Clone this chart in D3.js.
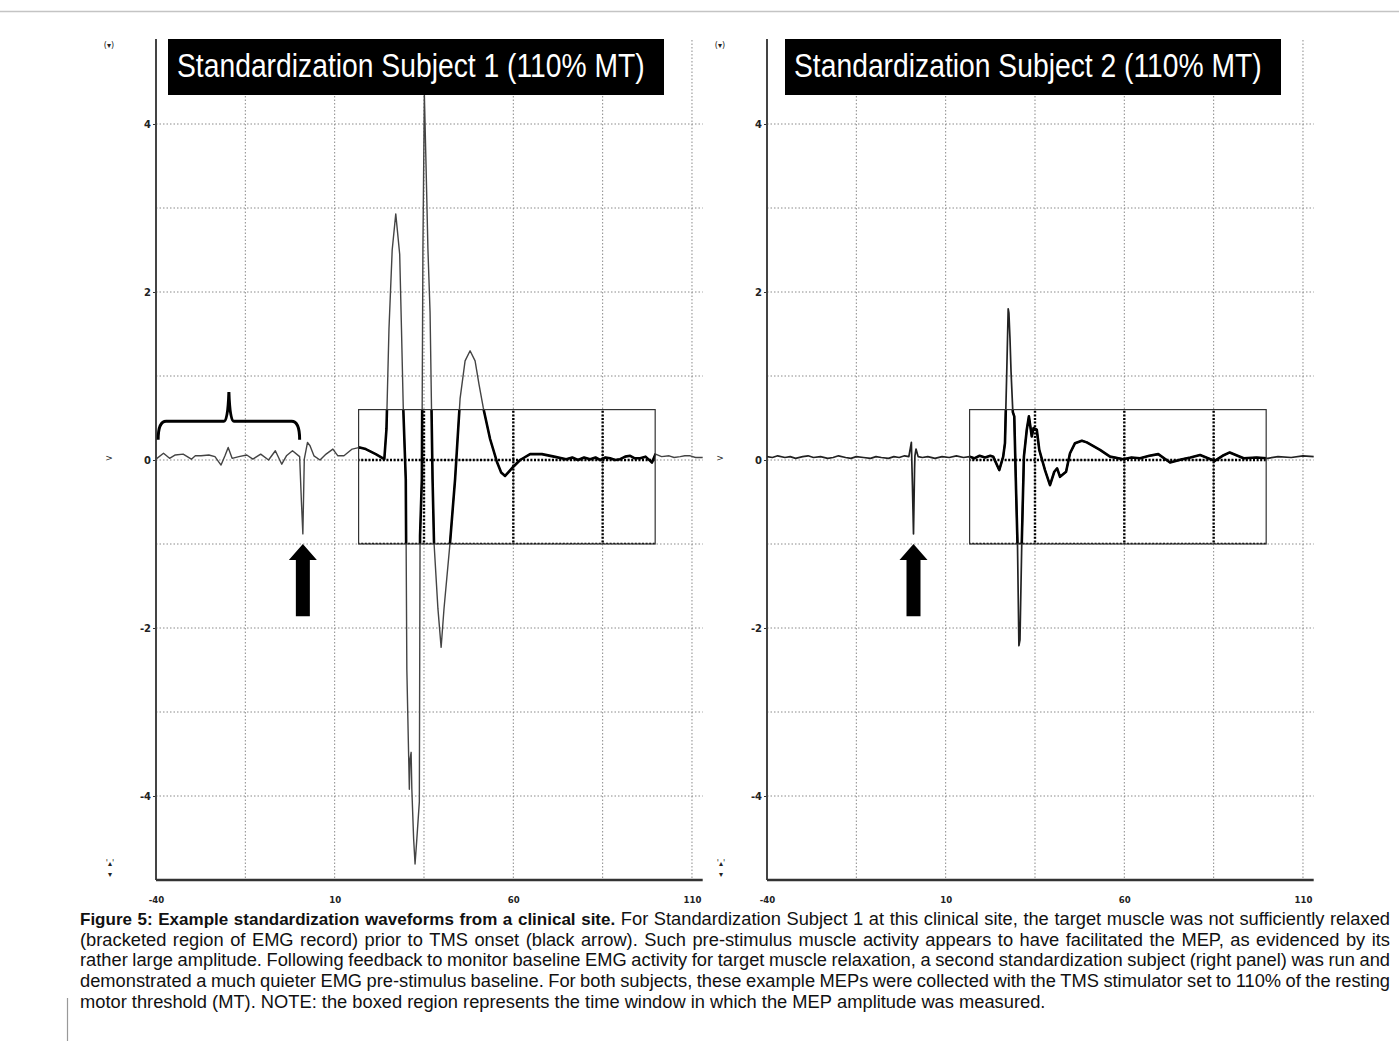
<!DOCTYPE html>
<html>
<head>
<meta charset="utf-8">
<script src="https://cdn.jsdelivr.net/npm/d3@7"></script>
<style>
  body { margin: 0; background: #fff; }
  svg { display: block; }
</style>
</head>
<body>
<div id="viz"></div>
<script>
'use strict';

const width = 1399;
const height = 1041;

// axis ticks (ms / mV)
const timeTicks = [-40, 10, 60, 110];
const timeGrid = [-15, 10, 35, 60, 85, 110];
const ampTicks = [4, 2, 0, -2, -4];
const ampGrid = [-4, -3, -2, -1, 0, 1, 2, 3, 4];

const panelTitles = [
    "Standardization Subject 1 (110% MT)",
    "Standardization Subject 2 (110% MT)"
];

// Subject 1 EMG trace
const s1Time = [-40, -37.9, -36.2, -34.6, -32.4, -30.1, -29, -27.4, -25.2, -23.5, -21.8, -20.7, -19.8, -18.7,
    -16.8, -14.6, -12.9, -10.7, -8.5, -6.6, -4.8, -3.5, -1.8, 0.2, 0.7, 1.1, 1.5, 2.4, 3.1, 4.2, 5.9, 7.6,
    9.5, 10.9, 12.6, 14.9, 17, 18.7, 21.5, 23.9, 24.5, 25.2, 26.1, 27.1, 28.2, 28.7, 29.2, 29.9, 30.2, 30.9,
    31.1, 31.4, 31.6, 32.1, 32.5, 33, 33.7, 33.9, 34.4, 34.7, 35.1, 35.6, 36.1, 36.7, 37.4, 37.8, 38.9, 39.8,
    40.6, 42.3, 43.7, 45.1, 46.5, 47.9, 49.3, 50.4, 51.6, 53.5, 55.4, 56.6, 57.7, 60, 61.9, 64.7, 68, 71.4,
    74.8, 76.5, 78.1, 79.8, 81.5, 83, 84.3, 85.8, 87.1, 88.5, 89.9, 91.3, 92.7, 94, 95.5, 97, 98.3, 98.8,
    99.8, 101.5, 103.6, 105, 106.7, 108, 109.5, 111, 113];
const s1Amp = [0.01, 0.08, 0.02, 0.06, 0.07, 0.01, 0.05, 0.05, 0.06, 0.04, -0.06, 0.05, 0.15, 0.02,
    0.04, 0.06, 0.01, 0.07, 0, 0.11, -0.05, 0.05, 0.11, 0.04, -0.5, -0.88, 0.01, 0.21, 0.17, 0.05, 0, 0.07,
    0.13, 0.05, 0.05, 0.13, 0.15, 0.13, 0.07, 0.01, 0.37, 1.56, 2.5, 2.93, 2.45, 1.56, 0.62, -0.23, -2.49, -3.92,
    -3.56, -3.48, -3.92, -4.51, -4.81, -4.51, -4.07, -0.9, -0.23, 2.51, 4.36, 3.46, 2.51, 1.76, -0.23, -0.98, -1.77, -2.23,
    -1.77, -0.98, -0.23, 0.73, 1.18, 1.3, 1.18, 0.9, 0.62, 0.25, -0.02, -0.15, -0.19, -0.08, 0, 0.07, 0.07, 0.04,
    0.01, 0.03, 0, 0.03, 0.01, 0.03, 0, 0.03, 0.02, 0, 0.01, 0.04, 0.05, 0.02, 0.02, 0.04, -0.01, -0.03,
    0.07, 0.04, 0.05, 0.03, 0.04, 0.05, 0.05, 0.03, 0.03];

// Subject 2 EMG trace
const s2Time = [-40, -38.5, -37, -35, -33.5, -32, -30, -28.5, -27, -25, -23, -21.5, -20, -18, -16.5, -15,
    -13, -11, -9.5, -8, -6, -4.5, -3, -1.5, -0.3, 0.4, 0.7, 1, 1.3, 1.4, 1.7, 2.3, 3.5, 5, 7, 9, 11, 13, 15,
    16.7, 18, 19.5, 21, 22.5, 23.3, 25, 26.1, 26.6, 27.1, 27.5, 27.7, 28, 28.3, 28.8, 29.2, 29.7, 30.1, 30.5,
    30.8, 31.3, 31.9, 32.7, 33.3, 34.1, 34.6, 35.5, 36.2, 37.8, 39.2, 40.4, 41.2, 42, 43.7, 44.8, 46.2, 48.1,
    49.5, 53.2, 56, 59.7, 62, 64.4, 67, 69.5, 72.8, 76.2, 78.5, 81.2, 85.3, 87.5, 89.5, 93.4, 97, 100.1, 103,
    106.7, 110, 113];
const s2Amp = [0.04, 0.03, 0.05, 0.03, 0.04, 0.02, 0.04, 0.05, 0.03, 0.04, 0.02, 0.03, 0.05, 0.03, 0.02, 0.04,
    0.03, 0.02, 0.04, 0.03, 0.02, 0.04, 0.03, 0.05, 0.04, 0.21, -0.3, -0.88, -0.1, 0.05, 0.13, 0.04, 0.03, 0.04, 0.02, 0.04, 0.03, 0.05, 0.03,
    0.04, 0.02, 0.05, 0.03, 0.05, 0.04, -0.12, 0.04, 0.2, 1.05, 1.8, 1.75, 1.45, 1.05, 0.57, 0.52, -0.35, -0.99, -2.21,
    -2.14, -0.99, 0.04, 0.36, 0.52, 0.28, 0.38, 0.36, 0.12, -0.12, -0.3, -0.14, -0.1, -0.2, -0.14, 0.08, 0.2, 0.23,
    0.21, 0.12, 0.04, 0.01, 0.03, 0.02, 0.05, 0.07, -0.03, 0.01, 0.03, 0.06, -0.01, 0.05, 0.09, 0.02, 0.03, 0.02, 0.04,
    0.03, 0.05, 0.04];

// measurement window (boxed region) and annotations, in data units
const windowTime = [16.7, 99.7];
const windowAmp = [-1, 0.6];
const stimTime = [1.1, 1.0];
const arrowAmp = [-1.0, -1.86];
const braceTime = [-39.4, -19.6, 0.2];
const braceAmp = [0.24, 0.46, 0.81];

const captionBold = "Figure 5: Example standardization waveforms from a clinical site.";
const captionLines = [
    "For Standardization Subject 1 at this clinical site, the target muscle was not sufficiently relaxed",
    "(bracketed region of EMG record) prior to TMS onset (black arrow). Such pre-stimulus muscle activity appears to have facilitated the MEP, as evidenced by its",
    "rather large amplitude. Following feedback to monitor baseline EMG activity for target muscle relaxation, a second standardization subject (right panel) was run and",
    "demonstrated a much quieter EMG pre-stimulus baseline. For both subjects, these example MEPs were collected with the TMS stimulator set to 110% of the resting",
    "motor threshold (MT). NOTE: the boxed region represents the time window in which the MEP amplitude was measured."
];

const panels = [
    { x0: 156, title: panelTitles[0], time: s1Time, amp: s1Amp, titleDx: 12, thin: "#444", stim: stimTime[0], brace: true },
    { x0: 767, title: panelTitles[1], time: s2Time, amp: s2Amp, titleDx: 18, thin: "#222", stim: stimTime[1], brace: false }
];
const plotW = 546.7;
const plotTop = 40;
const plotBottom = 880;

const svg = d3.select("#viz")
    .append("svg")
    .attr("width", width)
    .attr("height", height);

// page frame
svg.append("line").attr("x1", 0).attr("x2", width).attr("y1", 11.5).attr("y2", 11.5)
    .attr("stroke", "#c4c4c4").attr("stroke-width", 1.5);
svg.append("line").attr("x1", 67.5).attr("x2", 67.5).attr("y1", 998).attr("y2", height)
    .attr("stroke", "#999").attr("stroke-width", 1.2);

const defs = svg.append("defs");

panels.forEach((p, i) => {
    const x = d3.scaleLinear().domain([-40, 113]).range([p.x0, p.x0 + plotW]);
    const y = d3.scaleLinear().domain([-5, 5]).range([plotBottom, plotTop]);
    const g = svg.append("g");

    const clipId = "win" + i;
    defs.append("clipPath").attr("id", clipId)
        .append("rect")
        .attr("x", x(windowTime[0]))
        .attr("y", y(windowAmp[1]))
        .attr("width", x(windowTime[1]) - x(windowTime[0]))
        .attr("height", y(windowAmp[0]) - y(windowAmp[1]));

    // dotted grid
    const drawGrid = (sel, colour, w, dash) => {
        sel.selectAll(".vg").data(timeGrid).enter().append("line")
            .attr("x1", d => x(d)).attr("x2", d => x(d))
            .attr("y1", plotTop).attr("y2", plotBottom)
            .attr("stroke", colour).attr("stroke-width", w).attr("stroke-dasharray", dash);
        sel.selectAll(".hg").data(ampGrid).enter().append("line")
            .attr("x1", x(-40)).attr("x2", x(113))
            .attr("y1", d => y(d)).attr("y2", d => y(d))
            .attr("stroke", colour).attr("stroke-width", w).attr("stroke-dasharray", dash);
    };
    drawGrid(g.append("g"), "#8a8a8a", 1, "1.5,2");
    drawGrid(g.append("g").attr("clip-path", `url(#${clipId})`), "#000", 2.4, "2,1.6");

    // axes
    const yAxis = g.append("g")
        .attr("transform", `translate(${p.x0},0)`)
        .call(d3.axisLeft(y).tickValues(ampTicks).tickFormat(d => String(d)).tickSize(3).tickPadding(2));
    yAxis.select(".domain").remove();
    yAxis.selectAll("text").attr("font-family", "DejaVu Sans, sans-serif")
        .attr("font-size", 10).attr("font-weight", "bold").attr("fill", "#222");
    yAxis.selectAll("line").attr("stroke", "#333");

    const xAxis = g.append("g")
        .attr("transform", `translate(0,${plotBottom})`)
        .call(d3.axisBottom(x).tickValues(timeTicks).tickFormat(d => String(d)).tickSize(0).tickPadding(16));
    xAxis.select(".domain").remove();
    xAxis.selectAll("text").attr("font-family", "DejaVu Sans Condensed, DejaVu Sans, sans-serif")
        .attr("font-size", 9.5).attr("font-weight", "bold").attr("fill", "#222");

    g.append("line").attr("x1", p.x0).attr("x2", p.x0).attr("y1", plotTop - 1).attr("y2", plotBottom)
        .attr("stroke", "#444").attr("stroke-width", 2);
    g.append("line").attr("x1", p.x0).attr("x2", p.x0 + plotW).attr("y1", plotBottom).attr("y2", plotBottom)
        .attr("stroke", "#333").attr("stroke-width", 2.5);

    // software glyphs at the left margin
    const gx = p.x0 - 47;
    const glyph = g.append("g").attr("font-family", "DejaVu Sans, sans-serif").attr("fill", "#222")
        .attr("text-anchor", "middle");
    glyph.append("text").attr("x", gx).attr("y", 48).attr("font-size", 8).text("(\u25BE)");
    glyph.append("text").attr("x", gx).attr("y", y(0) + 1).attr("font-size", 9).text(">");
    glyph.append("text").attr("x", gx + 1).attr("y", 866).attr("font-size", 8).text("'\u25B4'");
    glyph.append("text").attr("x", gx + 1).attr("y", 877).attr("font-size", 8).text("\u25BE");

    // EMG trace
    const pts = p.time.map((t, k) => [t, p.amp[k]]);
    const line = d3.line().x(d => x(d[0])).y(d => y(d[1]));
    g.append("path").datum(pts)
        .attr("fill", "none").attr("stroke", p.thin).attr("stroke-width", i === 0 ? 1.4 : 1.7)
        .attr("stroke-linejoin", "round").attr("d", line);
    g.append("path").datum(pts)
        .attr("clip-path", `url(#${clipId})`)
        .attr("fill", "none").attr("stroke", "#000").attr("stroke-width", 2.6)
        .attr("stroke-linejoin", "round").attr("d", line);

    // measurement window
    g.append("rect")
        .attr("x", x(windowTime[0]))
        .attr("y", y(windowAmp[1]))
        .attr("width", x(windowTime[1]) - x(windowTime[0]))
        .attr("height", y(windowAmp[0]) - y(windowAmp[1]))
        .attr("fill", "none").attr("stroke", "#333").attr("stroke-width", 1.2);

    // TMS onset arrow
    const ax = x(p.stim);
    const tip = y(arrowAmp[0]);
    const bot = y(arrowAmp[1]);
    g.append("path")
        .attr("d", `M${ax},${tip} L${ax + 14},${tip + 16} L${ax + 7},${tip + 16} L${ax + 7},${bot}` +
            ` L${ax - 7},${bot} L${ax - 7},${tip + 16} L${ax - 14},${tip + 16} Z`)
        .attr("fill", "#000");

    // bracket over the pre-stimulus activity
    if (p.brace) {
        const xl = x(braceTime[0]), xc = x(braceTime[1]), xr = x(braceTime[2]);
        const ye = y(braceAmp[0]), yh = y(braceAmp[1]), yt = y(braceAmp[2]);
        g.append("path")
            .attr("d", `M${xl},${ye} Q${xl},${yh} ${xl + 8},${yh} L${xc - 5},${yh} Q${xc - 1},${yh} ${xc},${yt}` +
                ` Q${xc + 1},${yh} ${xc + 5},${yh} L${xr - 8},${yh} Q${xr},${yh} ${xr},${ye}`)
            .attr("fill", "none").attr("stroke", "#000").attr("stroke-width", 3);
    }

    // title box, text squeezed to a narrow face
    const bx = p.x0 + p.titleDx;
    g.append("rect").attr("x", bx).attr("y", 39).attr("width", 496).attr("height", 56).attr("fill", "#000");
    const tg = g.append("g");
    const tt = tg.append("text")
        .attr("font-family", "Liberation Sans, Arial, sans-serif")
        .attr("font-size", 33)
        .attr("fill", "#fff")
        .text(p.title);
    const sx = 468 / tt.node().getComputedTextLength();
    tg.attr("transform", `translate(${bx + 9},77) scale(${sx},1)`);
});

// caption, justified like the source page
const cap = svg.append("g")
    .attr("font-family", "Liberation Sans, Arial, sans-serif")
    .attr("font-size", 18.3)
    .attr("fill", "#111");
const probe = cap.append("text");
function measure(str, bold) {
    probe.attr("font-weight", bold ? "bold" : null)
        .attr("font-size", bold ? 17 : null)
        .text(str);
    return probe.node().getComputedTextLength();
}
const capLeft = 80;
const capRight = 1390;
const spaceW = measure("a b") - measure("ab");
captionLines.forEach((ln, li) => {
    let words = ln.split(" ").map(w => ({ text: w, bold: false }));
    if (li === 0) {
        words = captionBold.split(" ").map(w => ({ text: w, bold: true })).concat(words);
    }
    const widths = words.map(w => measure(w.text, w.bold));
    const last = li === captionLines.length - 1;
    const gap = last ? spaceW : (capRight - capLeft - d3.sum(widths)) / (words.length - 1);
    let cx = capLeft;
    const yy = 925 + li * 20.7;
    words.forEach((w, k) => {
        cap.append("text")
            .attr("x", cx).attr("y", yy)
            .attr("font-weight", w.bold ? "bold" : null)
            .attr("font-size", w.bold ? 17 : null)
            .text(w.text);
        cx += widths[k] + gap;
    });
});
probe.remove();
</script>
</body>
</html>
